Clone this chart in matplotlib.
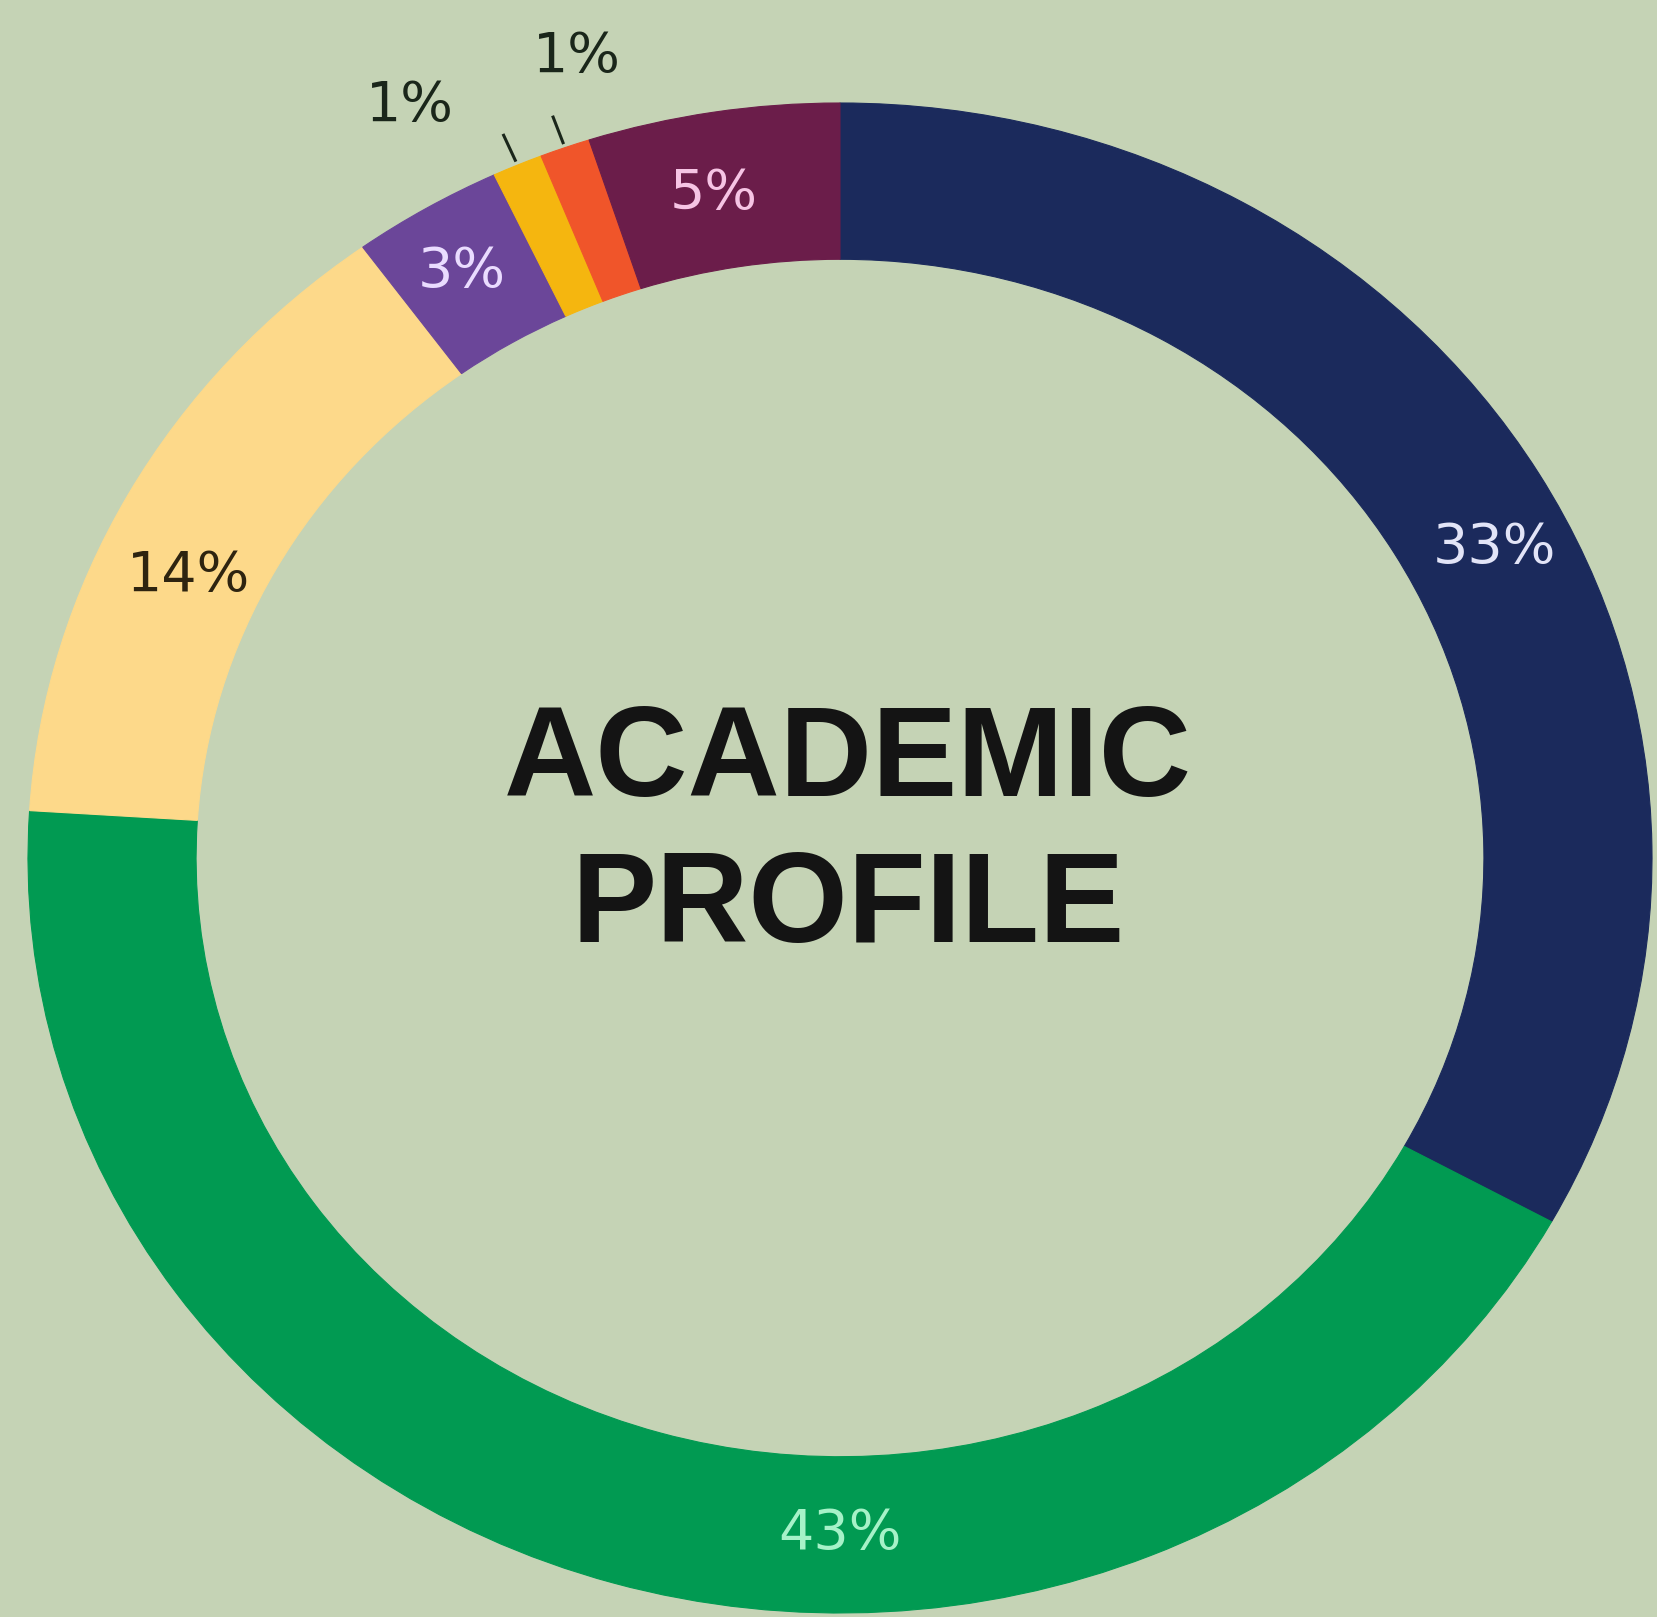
import numpy as np
import matplotlib.pyplot as plt

values = [33, 43, 14, 3, 1, 1, 5]
pct_labels = ['33%', '43%', '14%', '3%', '1%', '1%', '5%']
colors = ['#1b2a5c', '#019a52', '#fdd98a', '#6b4699', '#f5b60f', '#f0552a', '#6b1d4a']
label_colors = ['#e2e4f7', '#a6f2c8', '#2e2410', '#eadcff', '#1a261a', '#1a261a', '#f6c4e4']
# label spot: angle clockwise from 12 o'clock (deg) and radius
label_angles = [63, 180, 295, 329, 332, 343, 350]
label_radii = [0.905, 0.895, 0.885, 0.905, 1.128, 1.11, 0.893]
title_lines = ['ACADEMIC', 'PROFILE']

bg = '#c5d3b5'
W, H = 1658, 1617
cx, cy = 840, 858      # ring centre in pixels
rx, ry = 812, 755      # ring is a bit wider than tall

fig = plt.figure(figsize=(W / 100, H / 100), dpi=100)
fig.patch.set_facecolor(bg)
ax = fig.add_axes([0, 0, 1, 1])
ax.set_facecolor(bg)

wedges, _ = ax.pie(values, colors=colors, startangle=90, counterclock=False,
                   radius=1, wedgeprops=dict(width=0.207, linewidth=0.8))
for w in wedges:
    w.set_edgecolor(w.get_facecolor())

ax.set_aspect('auto')
ax.set_xlim(-cx / rx, (W - cx) / rx)
ax.set_ylim((cy - H) / ry, cy / ry)
ax.axis('off')

for w, txt, c, a, r in zip(wedges, pct_labels, label_colors, label_angles, label_radii):
    th = np.deg2rad(a)
    ax.text(r * np.sin(th), r * np.cos(th), txt, color=c, fontsize=40,
            ha='center', va='center', family='DejaVu Sans')
    if r > 1:
        # small leader line for the outside labels
        mid = np.deg2rad((w.theta1 + w.theta2) / 2)
        ax.plot([1.005 * np.cos(mid), 1.045 * np.cos(mid)],
                [1.005 * np.sin(mid), 1.045 * np.sin(mid)],
                color='#1a261a', lw=2.2, solid_capstyle='butt')

ax.text(0.01, 0.126, title_lines[0], fontsize=92, fontweight='bold', color='#141414',
        ha='center', va='center', family='Liberation Sans')
ax.text(0.01, -0.068, title_lines[1], fontsize=92, fontweight='bold', color='#141414',
        ha='center', va='center', family='Liberation Sans')

fig.savefig('out.png', dpi=100, facecolor=bg)
